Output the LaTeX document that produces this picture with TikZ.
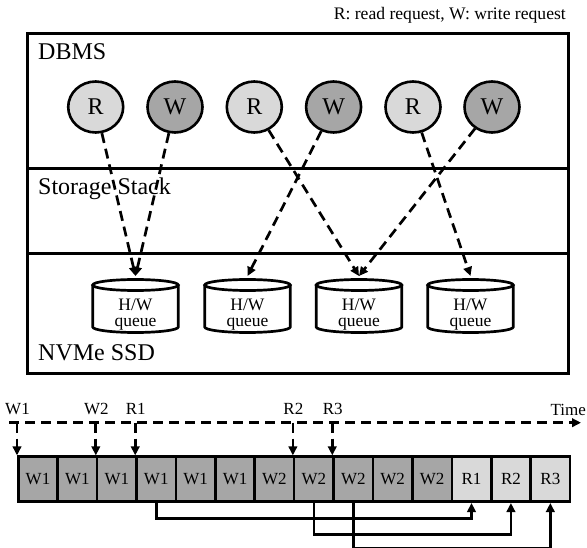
\documentclass[tikz,border=0pt]{standalone}
\usepackage{fontspec}
\setmainfont{Liberation Serif}
\usetikzlibrary{arrows.meta,shapes.geometric}
\definecolor{rfill}{HTML}{D9D9D9}
\definecolor{wfill}{HTML}{A6A6A6}
\begin{document}
\begin{tikzpicture}[x=1pt,y=-1pt,
  bigtxt/.style={font=\fontsize{24}{28}\selectfont, inner sep=0pt},
  reqR/.style={ellipse, draw, line width=2.6pt, fill=rfill, minimum width=55pt, minimum height=51pt, inner sep=0pt, font=\fontsize{24}{28}\selectfont},
  reqW/.style={reqR, fill=wfill},
  layerbox/.style={draw, line width=3pt},
  cylst/.style={draw, line width=2.7pt, fill=white},
  qtext/.style={font=\fontsize{17.5}{15.8}\selectfont, inner sep=0pt, align=center},
  dasharr/.style={line width=2.7pt, dash pattern=on 10pt off 6pt, -{Triangle[length=9pt,width=8.5pt]}},
  slot/.style={draw, line width=2.6pt, minimum width=39.41pt, minimum height=45pt, inner sep=0pt, font=\fontsize{17}{20}\selectfont},
  tltxt/.style={font=\fontsize{17}{20}\selectfont, inner sep=0pt},
  solarr/.style={line width=2.6pt, -{Triangle[length=9pt,width=8.5pt]}}
]
\useasboundingbox (0,0) rectangle (587,548);

% legend
\node[anchor=base east, font=\fontsize{17.6}{20}\selectfont, inner sep=0pt] (legend) at (566,20) {R: read request, W: write request};

% layers
\draw[layerbox] (27.3,33.5) rectangle (568.3,374);
\draw[layerbox] (27.3,168.3) -- (568.3,168.3);
\draw[layerbox] (27.3,253.5) -- (568.3,253.5);
\node[bigtxt, anchor=base west] (dbms) at (38,60) {DBMS};
\node[bigtxt, anchor=base west] (stack) at (38,195) {Storage Stack};
\node[bigtxt, anchor=base west] (ssd) at (38,360) {NVMe SSD};

% requests
\node[reqR] (r1) at (95.7,107) {R};
\node[reqW] (w1) at (175,107) {W};
\node[reqR] (r2) at (254.3,107) {R};
\node[reqW] (w2) at (333.6,107) {W};
\node[reqR] (r3) at (413,107) {R};
\node[reqW] (w3) at (492,107) {W};

% hardware queues
\foreach \i/\cx in {1/135.5,2/247.5,3/359,4/470.5}{
  \draw[cylst] (\cx-42.8,285) -- (\cx-42.8,327) arc[start angle=180,end angle=0,x radius=42.8,y radius=5.5] -- (\cx+42.8,285);
  \draw[cylst] (\cx,285) ellipse[x radius=42.8,y radius=5.5];
  \node[qtext, anchor=north] (hw\i) at (\cx,299) {H/W\\queue};
  \coordinate (in\i) at (\cx,276);
}

% request paths
\draw[dasharr] (r1) -- (in1);
\draw[dasharr] (w1) -- (in1);
\draw[dasharr] (r2) -- (in3);
\draw[dasharr] (w2) -- (in2);
\draw[dasharr] (r3) -- (in4);
\draw[dasharr] (w3) -- (in3);

% timeline slots
\foreach \lab/\col [count=\i from 0] in {W1/wfill,W1/wfill,W1/wfill,W1/wfill,W1/wfill,W1/wfill,W2/wfill,W2/wfill,W2/wfill,W2/wfill,W2/wfill,R1/rfill,R2/rfill,R3/rfill}{
  \node[slot, fill=\col] (s\i) at ({18.3+39.41*(\i+0.5)},479.2) {\lab};
}

% time axis
\coordinate (t0) at (9.3,422.7);
\coordinate (t1) at (581,422.7);
\draw[dasharr] (t0) -- (t1);
\node[tltxt, anchor=base east] (time) at (586,415) {Time};

\foreach \s/\lab in {0/W1,2/W2,3/R1,7/R2,8/R3}{
  \node[tltxt, anchor=base] (lab\s) at ([xshift=0.5pt]s\s.north west |- 0,414.5) {\lab};
  \draw[dasharr] (s\s.north west |- t0) -- (s\s.north west);
}

% dependencies
\draw[solarr] (s3.south) -- ++(0,15.6) -| (s11.south);
\draw[solarr] (s7.south) -- ++(0,31.6) -| (s12.south);
\draw[solarr] (s8.south) -- ++(0,45.6) -| (s13.south);
\end{tikzpicture}
\end{document}
